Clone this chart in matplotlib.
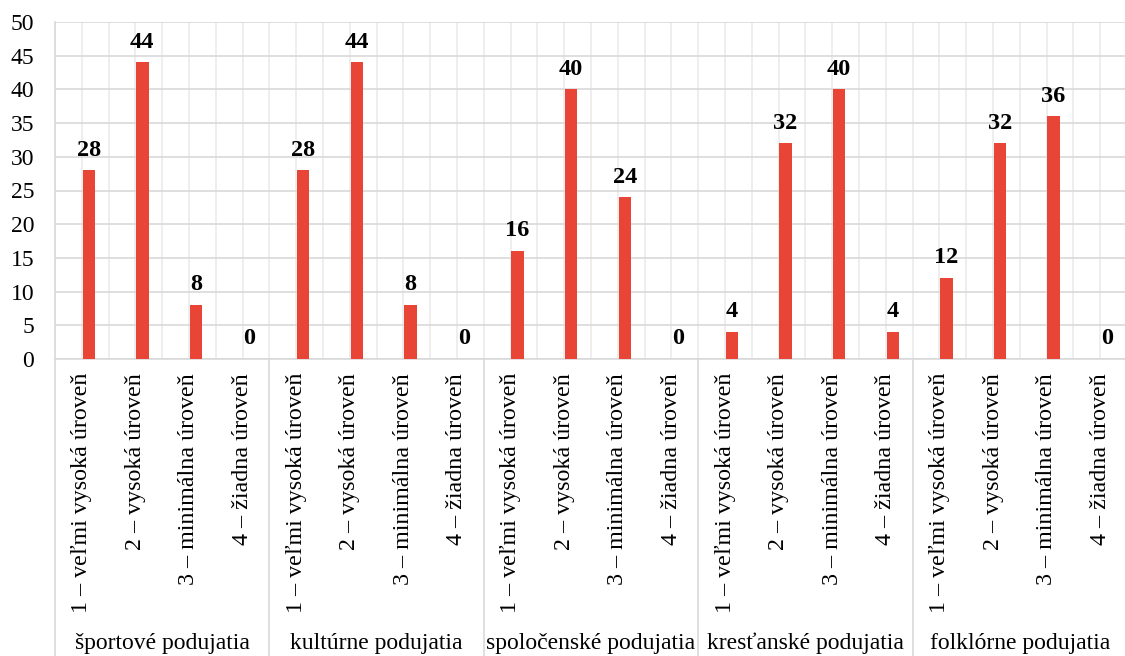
import matplotlib
matplotlib.use("Agg")
import matplotlib.pyplot as plt
import numpy as np

groups = ["športové podujatia", "kultúrne podujatia", "spoločenské podujatia",
          "kresťanské podujatia", "folklórne podujatia"]
levels = ["1 – veľmi vysoká úroveň", "2 – vysoká úroveň",
          "3 – minimálna úroveň", "4 – žiadna úroveň"]
values = [28, 44, 8, 0,
          28, 44, 8, 0,
          16, 40, 24, 0,
          4, 32, 40, 4,
          12, 32, 36, 0]

plt.rcParams['font.family'] = ['Liberation Serif', 'DejaVu Serif']

BAR = '#E94537'
GRID = '#D9D9D9'

fig = plt.figure(figsize=(11.25, 6.56), dpi=100)
ax = fig.add_axes([55/1125, 297/656, 1072/1125, 337/656])

n = len(values)
x = np.arange(n)
off = 0.13
bars = ax.bar(x + off, values, width=0.23, color=BAR, zorder=3)
for xi, v in zip(x, values):
    ax.annotate(str(v), (xi + off, v), xytext=(0, 7), textcoords='offset points',
                ha='center', va='bottom', fontsize=17.5, fontweight='bold', color='black')

ax.set_xlim(-0.5, n - 0.5)
ax.set_ylim(0, 50)
ax.set_yticks(np.arange(0, 51, 5))
ax.tick_params(axis='y', length=0, pad=15, labelsize=17, labelcolor='black')

ax.set_xticks(x)
ax.set_xticks(np.arange(-0.5, n, 1.0), minor=True)
ax.set_xticklabels(levels * len(groups), rotation=90, ha='center', va='top', fontsize=17.3)
ax.tick_params(axis='x', which='both', length=0, pad=10)

ax.grid(True, axis='y', color=GRID, linewidth=1.2, zorder=0)
ax.grid(True, axis='x', which='both', color='#EBEBEB', linewidth=1.2, zorder=0)
ax.set_axisbelow(True)

for s in ['top', 'right']:
    ax.spines[s].set_visible(False)
ax.spines['left'].set_color(GRID)
ax.spines['bottom'].set_color(GRID)
ax.spines['bottom'].set_linewidth(1.2)
ax.spines['left'].set_linewidth(1.2)

trans = ax.get_xaxis_transform()
ybot = -297/337
for g in range(len(groups) + 1):
    xb = g * 4 - 0.5
    ax.plot([xb, xb], [0, ybot], transform=trans, color=GRID, linewidth=1.2, clip_on=False)
for g, name in enumerate(groups):
    ax.text(g * 4 + 1.5, -284/337, name, transform=trans, ha='center', va='center',
            fontsize=17, color='black')

fig.savefig("out.png", dpi=100)
